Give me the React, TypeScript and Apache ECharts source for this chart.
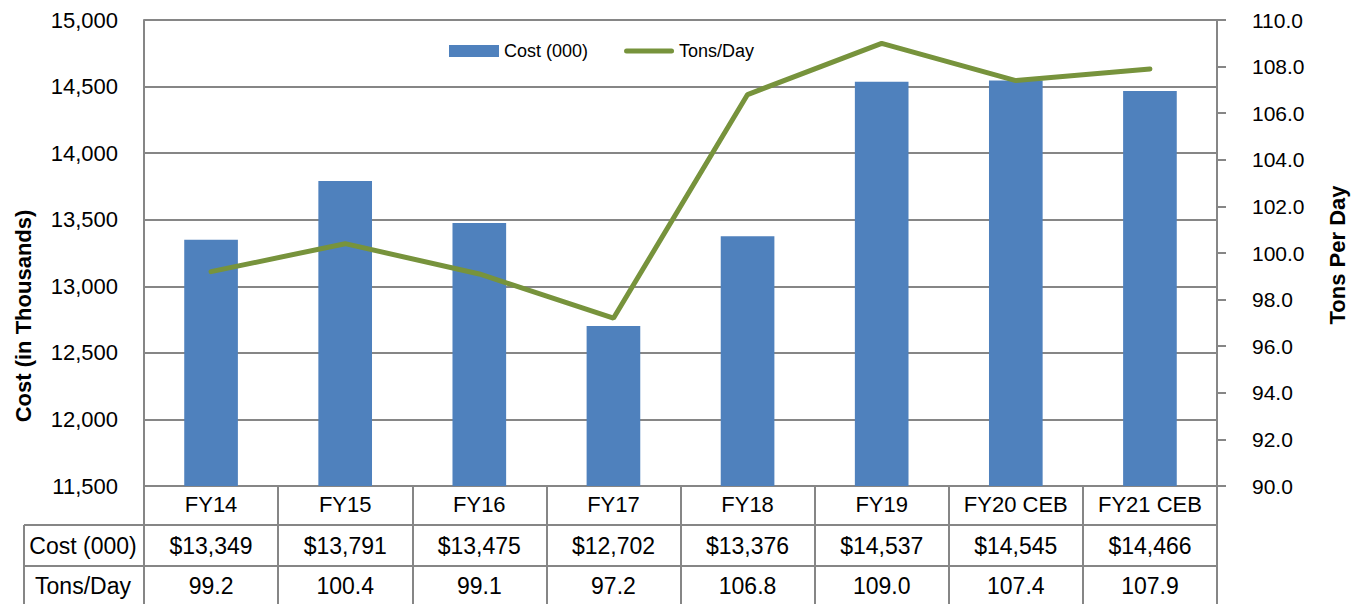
import React, { useEffect, useRef } from "react";
import * as echarts from "echarts";

const categories = ["FY14", "FY15", "FY16", "FY17", "FY18", "FY19", "FY20 CEB", "FY21 CEB"];
const costValues = [13349, 13791, 13475, 12702, 13376, 14537, 14545, 14466];
const tonsValues = [99.2, 100.4, 99.1, 97.2, 106.8, 109.0, 107.4, 107.9];
const seriesNames = ["Cost (000)", "Tons/Day"];
const rowLabels = ["Cost (000)", "Tons/Day"];
const axisTitles = ["Cost (in Thousands)", "Tons Per Day"];

const FONT = "Liberation Sans";
const GRID_COLOR = "#868686";
const BAR_COLOR = "#4F81BD";
const LINE_COLOR = "#77933C";

export default function App() {
  const ref = useRef<HTMLDivElement>(null);

  useEffect(() => {
    document.body.style.margin = "0";
    if (!ref.current) return;
    const chart = echarts.init(ref.current, undefined, { renderer: "svg" });

    const gridLeft = 144;
    const gridTop = 20;
    const gridRight = 1217;
    const gridBottom = 486;
    const row1 = 525;
    const row2 = 566;

    const tableText = { fontFamily: FONT, fontSize: 23, color: "#000", lineHeight: 24 };

    const option: any = {
      animation: false,
      backgroundColor: "#fff",
      grid: {
        left: gridLeft,
        top: gridTop,
        right: 1365 - gridRight,
        bottom: 604 - gridBottom,
        containLabel: false,
      },
      legend: {
        left: 449,
        top: 42,
        padding: 0,
        itemWidth: 50,
        itemHeight: 12,
        itemGap: 36,
        textStyle: { fontFamily: FONT, fontSize: 18, color: "#000" },
        data: [
          { name: seriesNames[0], icon: "rect" },
          {
            name: seriesNames[1],
            icon: "path://M2.5,0 L47.5,0 A2.5,2.5 0 0 1 47.5,5 L2.5,5 A2.5,2.5 0 0 1 2.5,0 Z",
          },
        ],
      },
      xAxis: [
        {
          type: "category",
          data: categories,
          position: "bottom",
          axisLine: { show: true, lineStyle: { color: GRID_COLOR, width: 2 } },
          axisTick: { show: true, interval: 0, length: row1 - gridBottom, lineStyle: { color: GRID_COLOR, width: 2 } },
          axisLabel: { ...tableText, fontSize: 22, margin: 6, interval: 0 },
        },
        {
          type: "category",
          data: costValues.map((v) => "$" + v.toLocaleString("en-US")),
          position: "bottom",
          offset: row1 - gridBottom,
          axisLine: { show: true, lineStyle: { color: GRID_COLOR, width: 2 } },
          axisTick: { show: true, interval: 0, length: row2 - row1, lineStyle: { color: GRID_COLOR, width: 2 } },
          axisLabel: { ...tableText, margin: 9, interval: 0 },
        },
        {
          type: "category",
          data: tonsValues.map((v) => v.toFixed(1)),
          position: "bottom",
          offset: row2 - gridBottom,
          axisLine: { show: true, lineStyle: { color: GRID_COLOR, width: 2 } },
          axisTick: { show: true, interval: 0, length: 50, lineStyle: { color: GRID_COLOR, width: 2 } },
          axisLabel: { ...tableText, margin: 8, interval: 0 },
        },
      ],
      yAxis: [
        {
          type: "value",
          min: 11500,
          max: 15000,
          interval: 500,
          position: "left",
          axisLine: { show: true, lineStyle: { color: GRID_COLOR, width: 2 } },
          axisTick: { show: false },
          splitLine: { show: true, lineStyle: { color: GRID_COLOR, width: 2 } },
          axisLabel: {
            fontFamily: FONT,
            fontSize: 22,
            color: "#000",
            margin: 26,
            formatter: (v: number) => v.toLocaleString("en-US"),
          },
        },
        {
          type: "value",
          min: 90,
          max: 110,
          interval: 2,
          position: "right",
          axisLine: { show: true, lineStyle: { color: GRID_COLOR, width: 2 } },
          axisTick: { show: true, length: 9, lineStyle: { color: GRID_COLOR, width: 2 } },
          splitLine: { show: false },
          axisLabel: {
            fontFamily: FONT,
            fontSize: 21,
            color: "#000",
            margin: 35,
            formatter: (v: number) => v.toFixed(1),
          },
        },
      ],
      series: [
        {
          name: seriesNames[0],
          type: "bar",
          xAxisIndex: 0,
          yAxisIndex: 0,
          data: costValues,
          barWidth: "40%",
          itemStyle: { color: BAR_COLOR },
        },
        {
          name: seriesNames[1],
          type: "line",
          xAxisIndex: 0,
          yAxisIndex: 1,
          data: tonsValues,
          symbol: "none",
          showSymbol: false,
          lineStyle: { color: LINE_COLOR, width: 5, cap: "round" },
          itemStyle: { color: LINE_COLOR },
        },
      ],
      graphic: [
        { type: "line", shape: { x1: 24, y1: row1, x2: gridLeft, y2: row1 }, style: { stroke: GRID_COLOR, lineWidth: 2 } },
        { type: "line", shape: { x1: 24, y1: row2, x2: gridLeft, y2: row2 }, style: { stroke: GRID_COLOR, lineWidth: 2 } },
        { type: "line", shape: { x1: 24, y1: row1, x2: 24, y2: 604 }, style: { stroke: GRID_COLOR, lineWidth: 2 } },
        {
          type: "text",
          x: 83,
          y: (row1 + row2) / 2,
          style: { text: rowLabels[0], font: `23px "${FONT}"`, fill: "#000", align: "center", verticalAlign: "middle", textAlign: "center", textVerticalAlign: "middle" },
        },
        {
          type: "text",
          x: 83,
          y: (row2 + 604) / 2 + 1,
          style: { text: rowLabels[1], font: `23px "${FONT}"`, fill: "#000", align: "center", verticalAlign: "middle", textAlign: "center", textVerticalAlign: "middle" },
        },
        {
          type: "text",
          x: 23,
          y: 316,
          rotation: Math.PI / 2,
          style: { text: axisTitles[0], font: `bold 22px "${FONT}"`, fill: "#000", align: "center", verticalAlign: "middle", textAlign: "center", textVerticalAlign: "middle" },
        },
        {
          type: "text",
          x: 1337,
          y: 255,
          rotation: Math.PI / 2,
          style: { text: axisTitles[1], font: `bold 22px "${FONT}"`, fill: "#000", align: "center", verticalAlign: "middle", textAlign: "center", textVerticalAlign: "middle" },
        },
      ],
    };

    chart.setOption(option);
    return () => chart.dispose();
  }, []);

  return <div ref={ref} style={{ width: 1365, height: 604 }} />;
}
